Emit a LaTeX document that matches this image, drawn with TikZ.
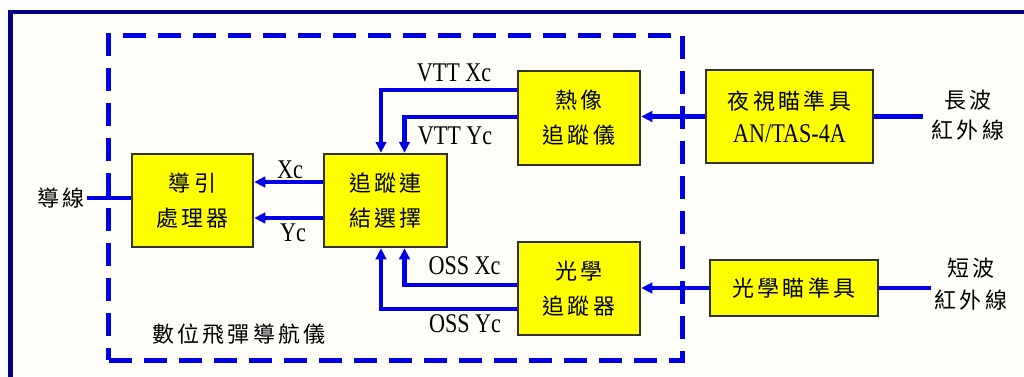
\documentclass[tikz,border=0pt]{standalone}
\usepackage{fontspec}
\setmainfont[LetterSpace=15]{Noto Sans CJK TC}
\newfontfamily\lat[FakeStretch=0.82]{Liberation Serif}
\usetikzlibrary{arrows.meta}

\definecolor{sigblue}{RGB}{0,0,230}
\definecolor{boxline}{RGB}{50,50,40}
\definecolor{frameblue}{RGB}{0,0,128}
\definecolor{cream}{RGB}{255,254,248}
\definecolor{boxyellow}{RGB}{255,255,0}

\begin{document}
\begin{tikzpicture}[x=1pt,y=-1pt,
  blk/.style={draw=boxline, line width=2.5pt, fill=boxyellow, inner sep=0pt, align=center, font=\fontsize{22}{35}\selectfont},
  wire/.style={draw=sigblue, line width=4.8pt},
  arr/.style={wire, -{Triangle[length=11pt,width=10.5pt]}},
  lbl/.style={inner sep=0pt, font=\lat\fontsize{27}{30}\selectfont},
  cjk/.style={inner sep=0pt, align=center, font=\fontsize{22}{32}\selectfont},
  sysframe/.style={draw=sigblue, line width=5pt, dash pattern=on 23pt off 12pt, inner sep=0pt},
]
\useasboundingbox (0,0) rectangle (1024,376);
\fill[white] (0,0) rectangle (1024,376);
\fill[cream] (10.5,12) rectangle (1024,376);
\draw[frameblue, line width=4.5pt] (10.5,380) -- (10.5,12) -- (1030,12);

% dashed system frame
\node[sysframe, minimum width=574pt, minimum height=324.5pt] (sys) at (395.5,197.75) {};
\node[cjk] (syslabel) at (239,334) {數位飛彈導航儀};

% blocks
\node[blk, minimum width=121pt, minimum height=93pt] (guide) at (192.5,200.5) {導引\\處理器};
\node[blk, minimum width=123pt, minimum height=93pt] (track) at (385.5,200.5) {追蹤連\\結選擇};
\node[blk, minimum width=122pt, minimum height=94pt] (thermal) at (579,118) {熱像\\追蹤儀};
\node[blk, minimum width=167pt, minimum height=93pt] (night) at (789.5,116.5) {夜視瞄準具\\[-2pt]{\lat\fontsize{27}{30}\selectfont AN/TAS-4A}};
\node[blk, minimum width=122pt, minimum height=93pt] (optrk) at (579,288.5) {光學\\追蹤器};
\node[blk, minimum width=168pt, minimum height=56pt] (optsight) at (794,288) {光學瞄準具};

% outside labels
\node[cjk, inner xsep=2pt] (wireout) at (61,198) {導線};
\node[cjk, inner xsep=9pt, font=\fontsize{22}{30}\selectfont] (lwir) at (968,115) {長波\\紅外線};
\node[cjk, inner xsep=4pt] (swir) at (971,284) {短波\\紅外線};

% connectors
\draw[wire] ([yshift=2.5pt]guide.west) -- ([yshift=2.5pt]guide.west -| wireout.east);
\draw[wire] (night.east) -- (night.east -| lwir.west);
\draw[wire] (optsight.east) -- (optsight.east -| swir.west);
\draw[arr] (night.west) -- (night.west -| thermal.east);
\draw[arr] (optsight.west) -- (optsight.west -| optrk.east);

\draw[arr] ([yshift=28pt]thermal.west) -| ([xshift=-4.5pt]track.north);
\draw[arr] ([yshift=1pt]thermal.west) -| ([xshift=19pt]track.north);
\draw[arr] ([yshift=3.5pt]optrk.west) -| ([xshift=19pt]track.south);
\draw[arr] ([yshift=-20.5pt]optrk.west) -| ([xshift=-4.5pt]track.south);

\draw[arr] ([yshift=18.5pt]track.west) -- ([yshift=18.5pt]guide.east);
\draw[arr] ([yshift=-17.5pt]track.west) -- ([yshift=-17.5pt]guide.east);

% signal labels
\node[lbl] (lvttx) at (454,72.5) {VTT Xc};
\node[lbl] (lvtty) at (455,136) {VTT Yc};
\node[lbl] (lossx) at (464.5,266) {OSS Xc};
\node[lbl] (lossy) at (465,324) {OSS Yc};
\node[lbl] (lxc) at (290,170) {Xc};
\node[lbl] (lyc) at (293,233) {Yc};
\end{tikzpicture}
\end{document}
